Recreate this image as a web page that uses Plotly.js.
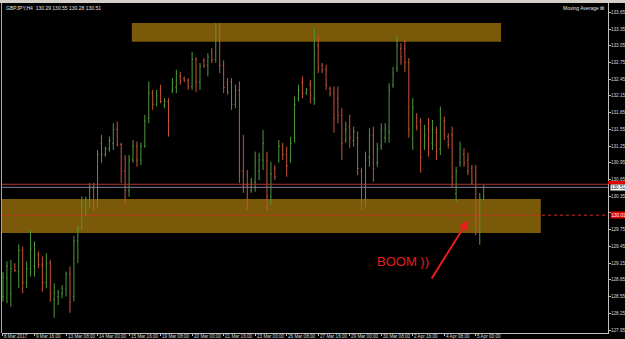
<!DOCTYPE html>
<html>
<head>
<meta charset="utf-8">
<script src="https://cdn.plot.ly/plotly-3.0.1.min.js"></script>
<style>html,body{margin:0;padding:0;background:#000;}#chart{width:625px;height:339px;}</style>
</head>
<body>
<div id="chart"></div>
<script>
// GBPJPY H4 bars
const opens = [128.55,128.88,128.60,129.12,129.00,129.38,128.80,129.05,129.10,129.30,
129.12,128.80,129.15,128.50,128.55,128.60,128.68,128.95,128.55,129.55,
129.80,130.10,130.25,130.50,130.20,131.30,131.10,131.20,131.30,131.55,
131.28,130.80,130.45,131.00,131.25,131.00,131.25,131.75,132.20,132.00,
132.25,131.98,132.05,132.25,132.30,132.50,132.46,132.43,132.32,132.80,
132.40,132.78,132.70,132.95,132.80,133.30,132.70,132.40,132.40,132.00,
132.25,130.80,130.55,130.45,130.60,130.80,131.00,131.00,130.35,130.85,
131.00,131.25,131.10,131.00,131.40,132.10,132.40,132.20,132.35,132.10,
133.05,132.70,132.62,132.28,132.20,132.10,131.80,131.35,131.60,131.35,
131.40,130.80,130.30,131.05,131.45,130.95,131.25,131.40,131.50,132.35,
132.65,133.00,133.00,132.75,131.40,131.75,131.70,131.25,131.55,131.30,
131.50,131.20,131.70,131.42,131.45,130.40,130.95,131.10,131.00,130.85,
130.75,129.80,130.29];
const highs = [128.99,129.18,129.21,129.15,129.49,129.45,129.18,129.73,129.54,129.36,
129.27,129.33,129.21,128.79,128.67,128.76,129.00,129.09,129.64,129.82,
130.35,130.34,130.59,130.59,131.18,131.45,131.24,131.42,131.66,131.69,
131.31,131.09,131.09,131.36,131.33,131.31,131.81,132.41,132.26,132.26,
132.35,132.11,132.11,132.47,132.62,132.58,132.50,132.47,132.94,132.85,
132.74,132.83,132.92,133.01,133.46,133.46,132.79,132.47,132.47,132.35,
132.41,131.45,130.82,130.68,131.15,131.13,131.54,131.15,130.97,130.91,
131.36,131.31,131.24,131.42,132.14,132.35,132.50,132.29,132.44,133.37,
133.24,132.74,132.71,132.32,132.32,132.32,131.93,131.69,131.81,131.60,
131.51,130.86,131.15,131.57,131.60,131.31,131.66,131.66,132.38,132.67,
133.23,133.10,133.15,132.83,132.11,131.84,131.75,131.63,131.75,131.72,
131.60,131.96,131.78,131.48,131.60,130.88,131.33,131.21,131.13,130.91,
130.91,130.41,130.55];
const lows = [128.46,128.43,128.37,128.99,128.70,128.61,128.70,128.91,128.91,129.06,
128.64,128.70,128.46,128.17,128.40,128.52,128.55,128.26,128.46,129.15,
129.76,129.98,130.14,130.10,130.14,130.95,131.06,131.15,131.18,131.24,
130.59,130.19,130.34,130.95,130.88,130.91,131.22,131.66,131.90,131.96,
132.02,131.93,131.42,132.20,132.20,132.35,132.40,132.26,132.26,132.22,
132.26,132.65,132.50,132.74,132.74,132.56,132.20,132.17,131.90,131.93,
130.59,130.41,130.10,130.41,130.43,130.64,130.82,130.10,130.19,130.64,
130.95,131.00,130.70,130.95,131.31,132.05,132.11,132.17,132.02,131.99,
132.56,132.56,132.26,132.14,131.49,131.66,131.00,131.31,131.22,131.24,
130.73,130.10,130.16,130.88,130.61,130.88,131.18,131.31,131.31,132.29,
132.58,132.71,132.58,131.40,131.18,131.53,130.77,131.18,131.06,131.18,
131.00,131.09,131.36,131.21,130.52,130.25,130.88,130.88,130.73,130.55,
129.65,129.48,130.28];
const closes = [128.90,129.10,129.05,129.02,129.38,128.80,129.05,129.40,129.30,129.12,
128.80,129.15,128.60,128.62,128.62,128.70,128.95,128.45,129.55,129.75,
130.20,130.30,130.50,130.20,131.10,131.10,131.20,131.35,131.55,131.28,
130.80,130.45,131.00,131.25,131.00,131.25,131.70,132.20,132.00,132.15,
132.05,132.05,131.70,132.40,132.55,132.42,132.43,132.32,132.80,132.40,
132.68,132.70,132.85,132.80,133.30,132.70,132.30,132.22,132.00,132.25,
130.80,130.55,130.30,130.60,130.95,131.00,131.30,130.35,130.75,130.70,
131.25,131.10,130.90,131.30,132.00,132.25,132.20,132.25,132.15,132.90,
132.65,132.62,132.35,132.20,131.75,131.80,131.30,131.55,131.40,131.50,
130.85,130.25,131.00,131.45,130.85,131.20,131.55,131.55,132.25,132.55,
133.05,132.85,132.75,131.55,131.95,131.60,131.05,131.45,131.25,131.55,
131.15,131.75,131.45,131.28,130.70,130.80,131.20,130.95,130.80,130.62,
129.90,130.30,130.51];

const timeLabels = ["8 Mar 2017","9 Mar 16:00","13 Mar 08:00","14 Mar 00:00","15 Mar 16:00",
"19 Mar 08:00","20 Mar 00:00","21 Mar 16:00","23 Mar 00:00","26 Mar 08:00","27 Mar 16:00",
"29 Mar 00:00","30 Mar 08:00","2 Apr 16:00","4 Apr 08:00","5 Apr 00:00"];
const priceTicks = [133.65,133.35,133.05,132.75,132.45,132.15,131.85,131.55,131.25,130.95,
130.65,130.35,130.05,129.75,129.45,129.15,128.85,128.55,128.25,127.95];

// drawn objects (price levels)
const resistZone = [133.12, 133.46];
const supportZone = [129.69, 130.30];
const redLevel = 130.565;
const bidPrice = 130.51;
const dottedLevel = 130.01;
const header = "GBPJPY,H4  130.29 130.55 130.28 130.51";

const xs = opens.map((_, i) => i);
const tickPos = timeLabels.map((_, k) => k * 8);

const fnt = 'Liberation Sans, Arial, sans-serif';
const lblColor = '#d8d8d8';

const trace = {
  type: 'ohlc', x: xs, open: opens, high: highs, low: lows, close: closes,
  increasing: {line: {color: '#4f9a3c', width: 1}},
  decreasing: {line: {color: '#c8553a', width: 1}},
  tickwidth: 0.25, hoverinfo: 'skip'
};

const annotations = [
  {xref: 'paper', yref: 'paper', x: 0.005, y: 0.985, xanchor: 'left', yanchor: 'middle',
   text: header, showarrow: false, borderpad: 0, font: {family: fnt, size: 5, color: '#e0e0e0'}},
  {xref: 'paper', yref: 'paper', x: 0.995, y: 0.985, xanchor: 'right', yanchor: 'middle',
   text: 'Moving Average ⊠', showarrow: false, borderpad: 0, font: {family: fnt, size: 5, color: '#e0e0e0'}},
  {xref: 'paper', yref: 'paper', x: 0.661, y: 0.218, xanchor: 'center', yanchor: 'middle',
   text: 'BOOM ))', showarrow: false, font: {family: fnt, size: 13, color: '#e81c1c'}},
  {xref: 'paper', yref: 'paper', x: 0.7695, y: 0.3424, text: '', showarrow: true,
   axref: 'pixel', ayref: 'pixel', ax: -37.6, ay: 60,
   arrowhead: 2, arrowsize: 1, arrowwidth: 2, arrowcolor: '#e81c1c'}
];
// time labels under the axis, right of each tick (MT4 style)
timeLabels.forEach((t, k) => annotations.push({
  xref: 'x', yref: 'paper', x: tickPos[k], y: 0, xanchor: 'left', yanchor: 'top',
  xshift: 0.5, yshift: 0, text: t, showarrow: false, borderpad: 0,
  font: {family: fnt, size: 4.6, color: lblColor}
}));
// price labels right of the axis (130.05 is hidden under the red price box)
priceTicks.forEach(v => {
  if (v === 130.05) return;
  annotations.push({
    xref: 'paper', yref: 'y', x: 1, y: v, xanchor: 'left', yanchor: 'middle',
    xshift: 2, text: v.toFixed(2), showarrow: false, borderpad: 0,
    font: {family: fnt, size: 4.6, color: lblColor}
  });
});
annotations.push(
  {xref: 'paper', yref: 'y', x: 1, y: bidPrice, xanchor: 'left', yanchor: 'middle', xshift: 1.5,
   text: bidPrice.toFixed(2), showarrow: false, bgcolor: '#ffffff', borderpad: 0,
   font: {family: fnt, size: 4.6, color: '#000000'}},
  {xref: 'paper', yref: 'y', x: 1, y: dottedLevel, xanchor: 'left', yanchor: 'middle', xshift: 1.5,
   text: dottedLevel.toFixed(2), showarrow: false, bgcolor: '#e00000', borderpad: 0.5,
   font: {family: fnt, size: 4.6, color: '#ffffff'}}
);

const layout = {
  width: 625, height: 339,
  margin: {l: 2, r: 17, t: 3, b: 6, pad: 0},
  paper_bgcolor: '#000', plot_bgcolor: '#000',
  showlegend: false,
  xaxis: {
    range: [-0.25, 153.55], tickvals: tickPos, showticklabels: false,
    ticks: 'outside', ticklen: 2, tickcolor: '#c0c0c0',
    showline: true, linecolor: '#c0c0c0', linewidth: 1,
    showgrid: false, zeroline: false,
    rangeslider: {visible: false}, fixedrange: true
  },
  yaxis: {
    side: 'right', range: [127.897, 133.817],
    tickvals: priceTicks, showticklabels: false,
    ticks: 'outside', ticklen: 2, tickcolor: '#c0c0c0',
    showline: true, linecolor: '#c0c0c0', linewidth: 1,
    showgrid: false, zeroline: false,
    fixedrange: true
  },
  shapes: [
    {type: 'rect', xref: 'x', yref: 'y', x0: 32.7, x1: 126.4, y0: resistZone[0], y1: resistZone[1],
     fillcolor: '#7a5908', line: {width: 0}, layer: 'below'},
    {type: 'rect', xref: 'x', yref: 'y', x0: -0.25, x1: 136.5, y0: supportZone[0], y1: supportZone[1],
     fillcolor: '#7a5908', line: {width: 0}, layer: 'below'},
    {type: 'line', xref: 'paper', yref: 'y', x0: 0, x1: 1, y0: redLevel, y1: redLevel,
     line: {color: '#b03434', width: 1}},
    {type: 'line', xref: 'paper', yref: 'y', x0: 0, x1: 1, y0: bidPrice, y1: bidPrice,
     line: {color: '#80809a', width: 1}},
    {type: 'line', xref: 'paper', yref: 'y', x0: 0, x1: 1, y0: dottedLevel, y1: dottedLevel,
     line: {color: '#d03020', width: 1, dash: 'dot'}},
    {type: 'rect', xref: 'paper', yref: 'y', x0: 1.0, x1: 1.03, y0: 130.565, y1: 130.625,
     fillcolor: '#e00000', line: {width: 0}},
    {type: 'rect', xref: 'paper', yref: 'paper', x0: -0.01, x1: 1.03, y0: 1.0, y1: 1.012,
     fillcolor: '#d4d0c8', line: {width: 0}},
    {type: 'line', xref: 'paper', yref: 'paper', x0: -0.0008, x1: -0.0008, y0: 0, y1: 1,
     line: {color: '#a8a8a8', width: 1}}
  ],
  annotations: annotations
};

Plotly.newPlot('chart', [trace], layout, {displayModeBar: false, staticPlot: true});
</script>
</body>
</html>
